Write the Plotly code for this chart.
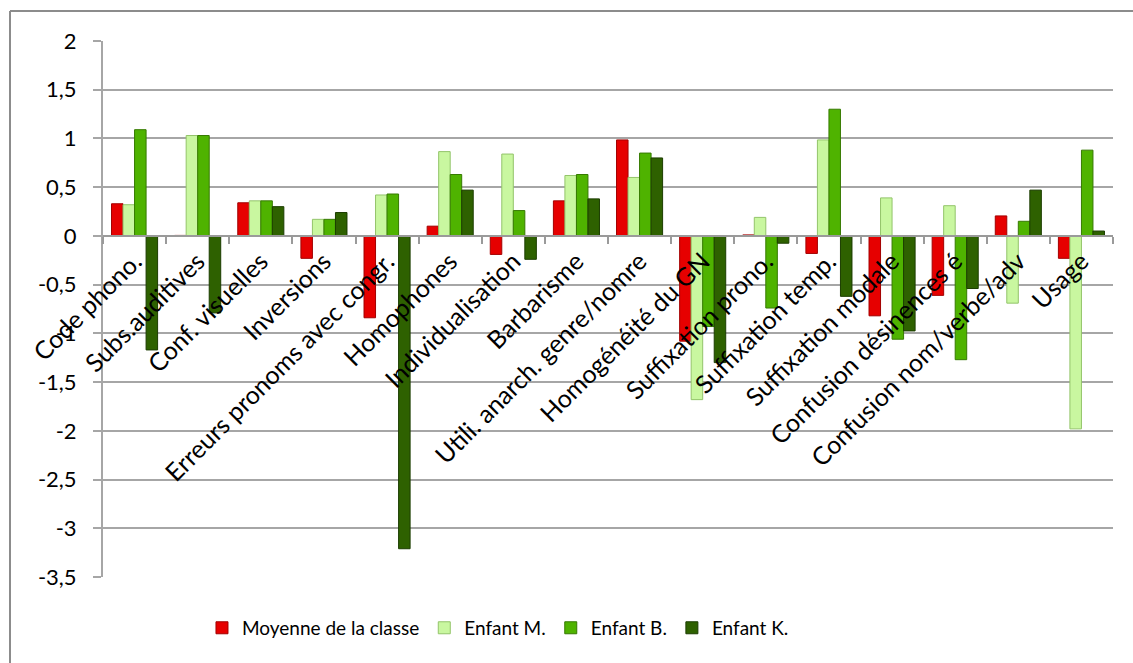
import plotly.graph_objects as go

# Error categories (x axis)
categories = [
    "Code phono.", "Subs.auditives", "Conf. visuelles", "Inversions",
    "Erreurs pronoms avec congr.", "Homophones", "Individualisation",
    "Barbarisme", "Utili. anarch. genre/nomre", "Homogénéité du GN",
    "Suffixation prono.", "Suffixation temp.", "Suffixation modale",
    "Confusion désinences é", "Confusion nom/verbe/adv", "Usage",
]

# Scores per series
moyenne_classe = [0.33, 0.005, 0.34, -0.23, -0.84, 0.10, -0.19, 0.36, 0.985,
                  -1.08, 0.01, -0.18, -0.82, -0.61, 0.205, -0.23]
enfant_m = [0.32, 1.03, 0.36, 0.17, 0.42, 0.865, 0.84, 0.62, 0.60,
            -1.68, 0.19, 0.985, 0.39, 0.31, -0.69, -1.98]
enfant_b = [1.09, 1.03, 0.36, 0.17, 0.43, 0.63, 0.26, 0.63, 0.85,
            -0.93, -0.74, 1.30, -1.06, -1.27, 0.15, 0.88]
enfant_k = [-1.17, -0.79, 0.30, 0.24, -3.21, 0.47, -0.24, 0.38, 0.80,
            -1.30, -0.075, -0.62, -0.975, -0.54, 0.47, 0.05]

y_ticks = [2, 1.5, 1, 0.5, 0, -0.5, -1, -1.5, -2, -2.5, -3, -3.5]
y_tick_text = ["2", "1,5", "1", "0,5", "0", "-0,5", "-1", "-1,5", "-2",
               "-2,5", "-3", "-3,5"]

series = [
    ("Moyenne de la classe", moyenne_classe, "#E60000", "#A30000"),
    ("Enfant M.", enfant_m, "#C9F7A0", "#93C46A"),
    ("Enfant B.", enfant_b, "#4FB300", "#367A00"),
    ("Enfant K.", enfant_k, "#2E6100", "#1C3D00"),
]

FONT = "Lato"
fig = go.Figure()
for name, vals, color, edge in series:
    fig.add_trace(go.Bar(
        x=categories, y=vals, name=name,
        marker=dict(color=color, line=dict(color=edge, width=1)),
    ))

y_min, y_max = -3.5, 2
fig.update_layout(
    width=1133, height=663,
    margin=dict(l=103, r=20, t=41, b=86),
    paper_bgcolor="white", plot_bgcolor="white",
    barmode="group", bargap=0.27, bargroupgap=0,
    font=dict(family=FONT, size=18, color="black"),
    showlegend=True,
    legend=dict(
        orientation="h", x=0.098, xanchor="left", y=-0.095, yanchor="middle",
        font=dict(family=FONT, size=19, color="black"),
        itemwidth=30, traceorder="normal",
    ),
    xaxis=dict(
        type="category", anchor="free", position=(0 - y_min) / (y_max - y_min),
        showline=True, linecolor="#9A9A9A", linewidth=2,
        ticks="outside", tickson="boundaries", ticklen=7, tickcolor="#9A9A9A",
        tickwidth=2, tickangle=-45, showgrid=False,
        tickfont=dict(family=FONT, size=25, color="black"),
    ),
    yaxis=dict(
        range=[y_min, y_max], tickvals=y_ticks, ticktext=y_tick_text,
        showgrid=True, gridcolor="#A6A6A6", gridwidth=2, zeroline=False,
        showline=True, linecolor="#A6A6A6", linewidth=2,
        ticks="outside", ticklen=8, tickcolor="#A6A6A6", tickwidth=2,
        ticklabelstandoff=12,
        tickfont=dict(family=FONT, size=22, color="black"),
    ),
    shapes=[
        # chart frame (left and top edges)
        dict(type="line", xref="paper", yref="paper",
             x0=(10 - 103) / 1010, x1=(10 - 103) / 1010,
             y0=(577 - 11) / 536, y1=(577 - 663) / 536,
             line=dict(color="#8C8C8C", width=2)),
        dict(type="line", xref="paper", yref="paper",
             x0=(10 - 103) / 1010, x1=(1133 - 103) / 1010,
             y0=(577 - 11) / 536, y1=(577 - 11) / 536,
             line=dict(color="#8C8C8C", width=2)),
    ],
)

fig.write_html("out.html")
